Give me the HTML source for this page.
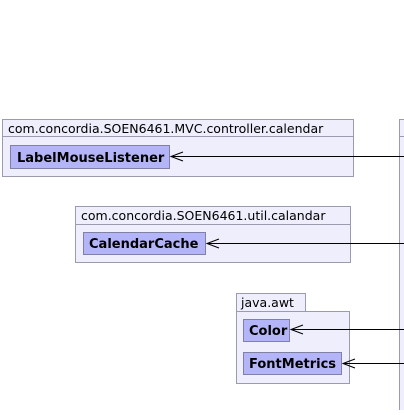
<!DOCTYPE html>
<html><head><style>
body{margin:0;width:404px;height:410px;background:#fff;overflow:hidden}
svg text{font-family:"DejaVu Sans","Liberation Sans",sans-serif;font-size:12.5px}
svg text.b{font-weight:bold;font-size:13px}
</style></head><body>
<svg width="404" height="410" xmlns="http://www.w3.org/2000/svg">
<g stroke="#9a9ab0" stroke-width="1" fill="#eeeefc">
<rect x="399.5" y="119.5" width="10" height="300"/>
<line x1="399.5" y1="136.5" x2="404" y2="136.5"/>
<rect x="2.5" y="119.5" width="351" height="57"/>
<line x1="2.5" y1="136.5" x2="353.5" y2="136.5"/>
<rect x="75.5" y="206.5" width="275" height="56"/>
<line x1="75.5" y1="224.5" x2="350.5" y2="224.5"/>
<rect x="236.5" y="293.5" width="69" height="18"/>
<rect x="236.5" y="311.5" width="113" height="72"/>
</g>
<g stroke="#8080a8" fill="#b4b4f8">
<rect x="10.5" y="145.5" width="159" height="23"/>
<rect x="83.5" y="232.5" width="122" height="22"/>
<rect x="243.5" y="319.5" width="46" height="22"/>
<rect x="243.5" y="352.5" width="98" height="22"/>
</g>
<g fill="#000">
<text x="8" y="133">com.concordia.SOEN6461.MVC.controller.calendar</text>
<text x="81" y="220">com.concordia.SOEN6461.util.calandar</text>
<text x="241" y="307">java.awt</text>
<text class="b" x="17" y="162">LabelMouseListener</text>
<text class="b" x="89" y="248">CalendarCache</text>
<text class="b" x="249" y="335">Color</text>
<text class="b" x="249" y="368">FontMetrics</text>
</g>
<g stroke="#000" stroke-width="1" fill="none">
<path d="M171 156.5H404M183 152L171 156.5L183 161"/>
<path d="M207 243.5H404M219 239L207 243.5L219 248"/>
<path d="M291 329.5H404M303 325L291 329.5L303 334"/>
<path d="M343 363.5H404M355 359L343 363.5L355 368"/>
</g>
</svg>
</body></html>
